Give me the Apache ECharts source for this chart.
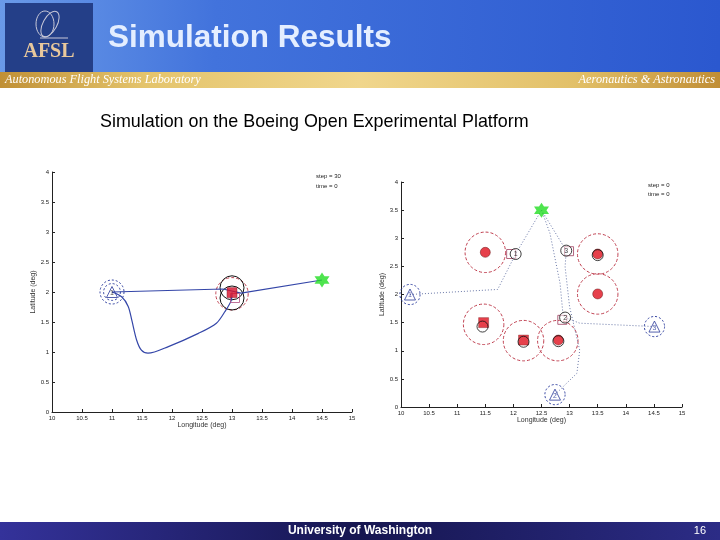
<!DOCTYPE html>
<html><head><meta charset="utf-8">
<script src="https://cdn.jsdelivr.net/npm/echarts@6/dist/echarts.min.js"></script>
<style>html,body{margin:0;padding:0;background:#fff}#c{width:720px;height:540px}</style>
</head><body><div id="c"></div>
<script>
// ---------- axis ranges ----------
const xRange = [10, 15];
const yRange = [0, 4];
const xStep = 0.5;
const yStep = 0.5;

// ---------- left chart (step = 30) ----------
const leftUav = [[11.0, 2.0, '1']];
const leftUavRanges = [[11.0, 2.0, 0.2], [11.0, 2.0, 0.14]];
const leftPathDirect = [[11.0, 2.0], [12.85, 2.05], [13.15, 1.98], [14.5, 2.2]];
const leftPathLoop = [[11.0, 2.0], [11.16, 1.92], [11.27, 1.76], [11.33, 1.53], [11.41, 1.2], [11.49, 1.03], [11.6, 0.98], [11.94, 1.09], [12.44, 1.31], [12.74, 1.48], [12.88, 1.67], [12.99, 1.87], [13.0, 1.99]];
const leftGoal = [[14.5, 2.2]];
const leftThreat = [[13.0, 1.99]];
const leftThreatOutline = [[13.05, 1.9]];
const leftSensorCircles = [[13.0, 2.07, 0.2], [13.0, 1.9, 0.2]];
const leftThreatRanges = [[13.0, 1.97, 0.27]];

// ---------- right chart (step = 0) ----------
const rightGoal = [[12.5, 3.5]];
const rightThreatCircles = [[11.5, 2.75], [13.5, 2.72], [13.5, 2.01], [12.8, 1.19]];
const rightThreatSquares = [[11.47, 1.5], [12.18, 1.19]];
const rightDetected = [[11.45, 1.43], [12.18, 1.16], [12.8, 1.17], [13.5, 2.7]];
const rightThreatRanges = [[11.5, 2.75, 0.36], [13.5, 2.72, 0.36], [13.5, 2.01, 0.36], [11.47, 1.47, 0.36], [12.18, 1.18, 0.36], [12.79, 1.18, 0.36]];
const rightTargets = [[12.04, 2.72, '1'], [12.94, 2.78, '3'], [12.92, 1.59, '2']];
const rightTargetSquares = [[11.96, 2.72], [12.99, 2.77], [12.87, 1.55]];
const rightUavs = [[10.16, 2.0, '1'], [12.74, 0.22, '2'], [14.51, 1.43, '3']];
const rightUavRanges = [[10.16, 2.0, 0.18], [12.74, 0.22, 0.18], [14.51, 1.43, 0.18]];
const rightPaths = [
  [[10.16, 2.0], [11.72, 2.09], [12.04, 2.72], [12.5, 3.5]],
  [[12.5, 3.5], [12.94, 2.78]],
  [[12.5, 3.5], [12.65, 3.09], [12.83, 2.2], [12.88, 1.67], [12.92, 1.59]],
  [[14.51, 1.43], [13.18, 1.49], [12.92, 1.59]],
  [[12.74, 0.22], [13.13, 0.6], [13.18, 1.01], [13.0, 1.78], [12.92, 2.49], [12.94, 2.78]]
];

const hexagram = 'path://M0,-10L8.66,5L-8.66,5Z M0,10L-8.66,-5L8.66,-5Z';
const FONT = 'Liberation Sans, Arial, sans-serif';

function circleRender(color, dash, width) {
  return function (params, api) {
    const c = api.coord([api.value(0), api.value(1)]);
    const s = api.size([api.value(2), api.value(2)]);
    return { type: 'circle', shape: { cx: c[0], cy: c[1], r: s[0] },
      style: { fill: 'none', stroke: color, lineWidth: width || 1, lineDash: dash } };
  };
}
function circles(data, gi, color, dash, width, z) {
  return { type: 'custom', xAxisIndex: gi, yAxisIndex: gi, coordinateSystem: 'cartesian2d',
    renderItem: circleRender(color, dash, width), data: data, encode: { x: 0, y: 1 }, clip: false, silent: true, z: z || 2 };
}
function scatter(data, gi, opts) {
  return Object.assign({ type: 'scatter', xAxisIndex: gi, yAxisIndex: gi, data: data, silent: true, z: 5 }, opts);
}
function mkX(gi, gap) {
  return { type: 'value', gridIndex: gi, min: xRange[0], max: xRange[1], interval: xStep,
    name: 'Longitude (deg)', nameLocation: 'middle', nameGap: gap,
    nameTextStyle: { fontSize: 7, color: '#333', fontFamily: FONT },
    axisLine: { lineStyle: { color: '#222', width: 1 } },
    axisTick: { inside: true, length: 3, lineStyle: { color: '#222' } },
    axisLabel: { fontSize: 6, color: '#222', margin: 3, fontFamily: FONT },
    splitLine: { show: false } };
}
function mkY(gi, gap) {
  return { type: 'value', gridIndex: gi, min: yRange[0], max: yRange[1], interval: yStep,
    name: 'Latitude (deg)', nameLocation: 'middle', nameGap: gap,
    nameTextStyle: { fontSize: 7, color: '#333', fontFamily: FONT },
    axisLine: { show: true, lineStyle: { color: '#222', width: 1 } },
    axisTick: { show: true, inside: true, length: 3, lineStyle: { color: '#222' } },
    axisLabel: { fontSize: 6, color: '#222', margin: 3, fontFamily: FONT },
    splitLine: { show: false } };
}

const chart = echarts.init(document.getElementById('c'), null, { renderer: 'canvas' });

const series = [
  // left
  circles(leftUavRanges, 0, '#3040a0', [2, 2], 1),
  circles(leftThreatRanges, 0, '#c04050', [3, 2], 1),
  circles(leftSensorCircles, 0, '#111', null, 1),
  { type: 'line', xAxisIndex: 0, yAxisIndex: 0, data: leftPathDirect, showSymbol: false, silent: true,
    lineStyle: { color: '#3446a8', width: 1.2 }, z: 3 },
  { type: 'line', xAxisIndex: 0, yAxisIndex: 0, data: leftPathLoop, showSymbol: false, silent: true, smooth: 0.3,
    lineStyle: { color: '#3446a8', width: 1.2 }, z: 3 },
  scatter(leftUav, 0, { symbol: 'triangle', symbolSize: 11,
    itemStyle: { color: 'rgba(255,255,255,0)', borderColor: '#2a3a9a', borderWidth: 1 },
    label: { show: true, position: 'inside', formatter: p => p.data[2], fontSize: 7, color: '#111', offset: [0, 1] } }),
  scatter(leftThreatOutline, 0, { symbol: 'rect', symbolSize: 9,
    itemStyle: { color: 'rgba(255,255,255,0)', borderColor: '#b05080', borderWidth: 1 } }),
  scatter(leftThreat, 0, { symbol: 'rect', symbolSize: 10, itemStyle: { color: '#d8102a', borderColor: '#7a1020', borderWidth: 0.5 } }),
  scatter(leftGoal, 0, { symbol: hexagram, symbolSize: 15, itemStyle: { color: '#22dd22' } }),
  // right
  circles(rightThreatRanges, 1, '#c04050', [3, 2], 1),
  circles(rightUavRanges, 1, '#3040a0', [2, 2], 1),
  ...rightPaths.map(p => ({ type: 'line', xAxisIndex: 1, yAxisIndex: 1, data: p, showSymbol: false, silent: true,
    lineStyle: { color: '#6a78a8', width: 1, type: [1, 2] }, z: 3 })),
  scatter(rightTargetSquares, 1, { symbol: 'rect', symbolSize: 9,
    itemStyle: { color: 'rgba(255,255,255,0)', borderColor: '#a04060', borderWidth: 1 } }),
  scatter(rightTargets, 1, { symbol: 'circle', symbolSize: 11,
    itemStyle: { color: 'rgba(255,255,255,0.6)', borderColor: '#111', borderWidth: 1 },
    label: { show: true, position: 'inside', formatter: p => p.data[2], fontSize: 7, color: '#111' } }),
  scatter(rightThreatCircles, 1, { symbol: 'circle', symbolSize: 10, itemStyle: { color: '#e0101e', borderColor: '#601010', borderWidth: 0.6 } }),
  scatter(rightThreatSquares, 1, { symbol: 'rect', symbolSize: 10, itemStyle: { color: '#e0101e', borderColor: '#802020', borderWidth: 0.5 } }),
  scatter(rightDetected, 1, { symbol: 'circle', symbolSize: 11, z: 6,
    itemStyle: { color: 'rgba(255,255,255,0)', borderColor: '#111', borderWidth: 1 } }),
  scatter(rightUavs, 1, { symbol: 'triangle', symbolSize: 11,
    itemStyle: { color: 'rgba(255,255,255,0)', borderColor: '#2a3a9a', borderWidth: 1 },
    label: { show: true, position: 'inside', formatter: p => p.data[2], fontSize: 7, color: '#2a3a9a', offset: [0, 1] } }),
  scatter(rightGoal, 1, { symbol: hexagram, symbolSize: 15, itemStyle: { color: '#22dd22' } })
];

const graphic = [
  { type: 'rect', shape: { x: 0, y: 0, width: 720, height: 72 }, z: -10,
    style: { fill: new echarts.graphic.LinearGradient(0, 0, 1, 0.3, [
      { offset: 0, color: '#6a9ae8' }, { offset: 0.3, color: '#4273dc' }, { offset: 1, color: '#2b58cf' }]) } },
  { type: 'rect', shape: { x: 5, y: 3, width: 88, height: 69 }, z: -9, style: { fill: '#243f88' } },
  { type: 'ellipse', shape: { cx: 45, cy: 24, rx: 9, ry: 13 }, z: -8, style: { fill: 'none', stroke: '#c8c8d8', lineWidth: 1 } },
  { type: 'ellipse', shape: { cx: 50, cy: 24, rx: 7, ry: 14 }, z: -8, rotation: -0.5, originX: 50, originY: 24, style: { fill: 'none', stroke: '#c8c8d8', lineWidth: 1 } },
  { type: 'line', shape: { x1: 40, y1: 38, x2: 68, y2: 38 }, z: -8, style: { stroke: '#c8c8d8', lineWidth: 1 } },
  { type: 'text', x: 49, y: 52, z: -8, style: { text: 'AFSL', fill: '#e8c89c', font: 'bold 20px "Liberation Serif", serif', align: 'center', verticalAlign: 'middle' } },
  { type: 'text', x: 108, y: 38, z: -8, style: { text: 'Simulation Results', fill: '#e4eeff', font: 'bold 31.5px "Liberation Sans", Arial, sans-serif', verticalAlign: 'middle' } },
  { type: 'rect', shape: { x: 0, y: 72, width: 720, height: 16 }, z: -10,
    style: { fill: new echarts.graphic.LinearGradient(0, 0, 1, 0, [
      { offset: 0, color: '#c09036' }, { offset: 0.2, color: '#e4c46c' }, { offset: 0.5, color: '#f0d68c' },
      { offset: 0.8, color: '#e2c068' }, { offset: 1, color: '#c08e36' }]) } },
  { type: 'text', x: 5, y: 80, z: -8, style: { text: 'Autonomous Flight Systems Laboratory', fill: '#ffffff', font: 'italic 12.3px "Liberation Serif", serif', verticalAlign: 'middle' } },
  { type: 'text', x: 715, y: 80, z: -8, style: { text: 'Aeronautics & Astronautics', fill: '#ffffff', font: 'italic 12.3px "Liberation Serif", serif', align: 'right', verticalAlign: 'middle' } },
  { type: 'text', x: 100, y: 122, z: -8, style: { text: 'Simulation on the Boeing Open Experimental Platform', fill: '#000', font: '17.9px "Liberation Sans", Arial, sans-serif', verticalAlign: 'middle' } },
  { type: 'rect', shape: { x: 0, y: 522, width: 720, height: 18 }, z: -10,
    style: { fill: new echarts.graphic.LinearGradient(0, 0, 1, 0, [
      { offset: 0, color: '#34329a' }, { offset: 0.5, color: '#161650' }, { offset: 1, color: '#2c2c86' }]) } },
  { type: 'text', x: 360, y: 531, z: -8, style: { text: 'University of Washington', fill: '#fff', font: 'bold 12px "Liberation Sans", Arial, sans-serif', align: 'center', verticalAlign: 'middle' } },
  { type: 'text', x: 706, y: 531, z: -8, style: { text: '16', fill: '#fff', font: '11px "Liberation Sans", Arial, sans-serif', align: 'right', verticalAlign: 'middle' } },
  { type: 'text', x: 316, y: 176, style: { text: 'step = 30', fill: '#222', font: '6px "Liberation Sans", Arial', verticalAlign: 'middle' } },
  { type: 'text', x: 316, y: 186, style: { text: 'time = 0', fill: '#222', font: '6px "Liberation Sans", Arial', verticalAlign: 'middle' } },
  { type: 'text', x: 648, y: 185, style: { text: 'step = 0', fill: '#222', font: '6px "Liberation Sans", Arial', verticalAlign: 'middle' } },
  { type: 'text', x: 648, y: 194, style: { text: 'time = 0', fill: '#222', font: '6px "Liberation Sans", Arial', verticalAlign: 'middle' } }
];

chart.setOption({
  animation: false,
  backgroundColor: '#ffffff',
  grid: [
    { left: 52, top: 172, width: 300, height: 240 },
    { left: 401, top: 182, width: 281, height: 225 }
  ],
  xAxis: [mkX(0, 10), mkX(1, 10)],
  yAxis: [mkY(0, 15), mkY(1, 14)],
  series: series,
  graphic: graphic
});
</script></body></html>
